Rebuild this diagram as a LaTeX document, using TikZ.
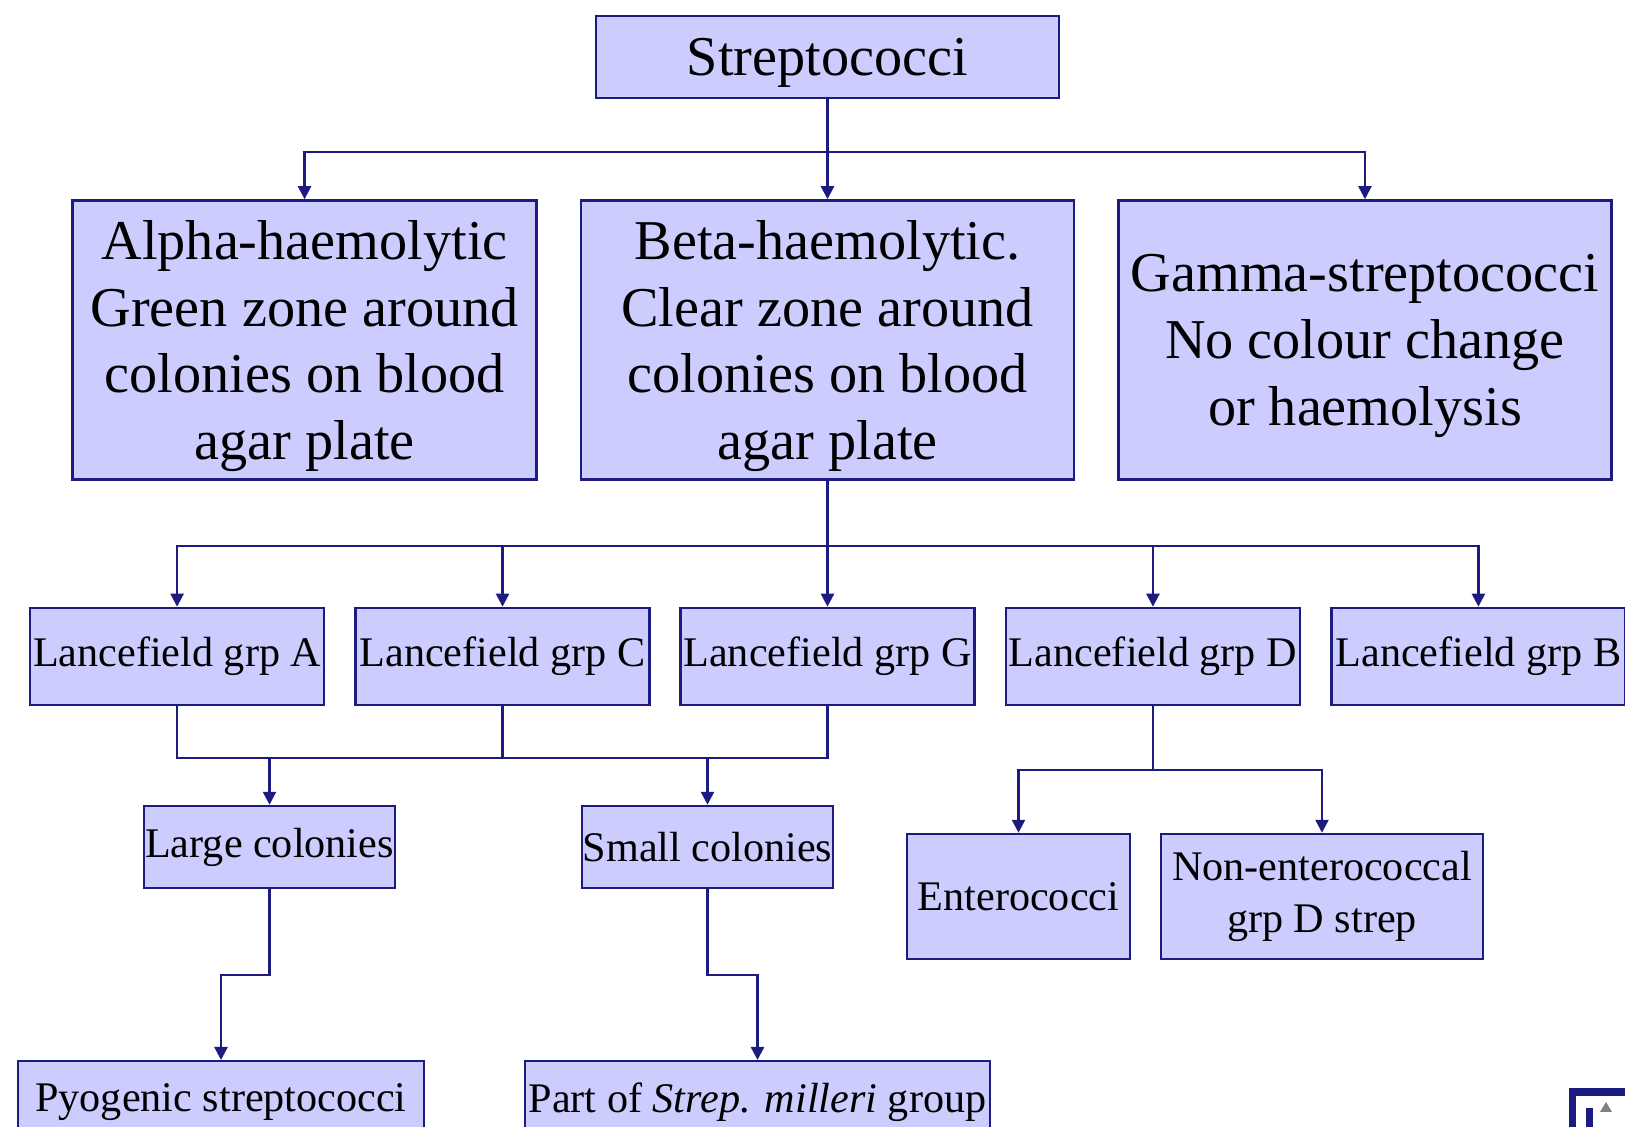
\documentclass[tikz,border=0pt]{standalone}
\usepackage{fontspec}
\setmainfont{Liberation Serif}
\usetikzlibrary{positioning, arrows.meta}
\definecolor{boxfill}{RGB}{204,204,255}
\definecolor{navy}{RGB}{28,28,128}
\tikzset{
  box/.style={draw=navy, fill=boxfill, line width=0.7pt, inner sep=0pt, align=center},
  topbox/.style={box, font=\fontsize{16}{19}\selectfont, text depth=0pt},
  subbox/.style={box, font=\fontsize{12}{14.8}\selectfont},
  lance/.style={subbox, minimum width=2.94cm, minimum height=0.97cm},
  link/.style={draw=navy, line width=0.7pt},
  arr/.style={link, -{Triangle[length=1.3mm,width=1.3mm]}}
}

\begin{document}
\begin{tikzpicture}
    \clip (0,0) rectangle (16.25,-11.27);
    \node[topbox, minimum width=4.63cm, minimum height=0.82cm] (strep) at (8.275,-0.57) {Streptococci};
    \node[topbox, minimum width=4.93cm, minimum height=2.79cm, below=1.00cm of strep] (beta) {Beta-haemolytic.\\Clear zone around\\colonies on blood\\agar plate};
    \node[topbox, minimum width=4.64cm, minimum height=2.79cm, left=0.42cm of beta] (alpha) {Alpha-haemolytic\\Green zone around\\colonies on blood\\agar plate};
    \node[topbox, minimum width=4.93cm, minimum height=2.79cm, right=0.42cm of beta] (gamma) {Gamma-streptococci\\No colour change\\or haemolysis};

    \node[lance, below=1.26cm of beta] (grpG) {Lancefield grp G};
    \node[lance, left=0.285cm of grpG] (grpC) {Lancefield grp C};
    \node[lance, left=0.29cm of grpC] (grpA) {Lancefield grp A};
    \node[lance, right=0.29cm of grpG] (grpD) {Lancefield grp D};
    \node[lance, right=0.29cm of grpD] (grpB) {Lancefield grp B};

    \node[subbox, minimum width=2.51cm, minimum height=0.82cm] (large) at (2.695,-8.47) {Large colonies};
    \node[subbox, minimum width=2.51cm, minimum height=0.82cm] (small) at (7.075,-8.47) {Small colonies};
    \node[subbox, minimum width=2.23cm, minimum height=1.25cm] (entero) at (10.185,-8.965) {Enterococci};
    \node[subbox, minimum width=3.22cm, minimum height=1.25cm] (nonent) at (13.22,-8.965) {Non-enterococcal\\grp D strep};
    \node[subbox, minimum width=4.06cm, minimum height=0.82cm, anchor=north] (pyo) at (2.21,-10.60) {Pyogenic streptococci};
    \node[subbox, minimum width=4.65cm, minimum height=0.82cm, anchor=north] (milleri) at (7.575,-10.60) {Part of \textit{Strep. milleri} group};

    % junctions
    \coordinate (j0) at (8.275,-1.52);
    \coordinate (j1) at (8.275,-5.46);
    \coordinate (j2) at (2.695,-7.58);
    \coordinate (j3) at (7.075,-7.58);
    \coordinate (j4) at (grpD |- 0,-7.70);
    \coordinate (j5) at (2.21,-9.75);
    \coordinate (j6) at (7.575,-9.75);

    \draw[link] (strep) -- (j0);
    \draw[arr] (j0) -| (alpha);
    \draw[arr] (j0) -- (beta);
    \draw[arr] (j0) -| (gamma);

    \draw[link] (beta) -- (j1);
    \foreach \g in {grpA,grpC,grpG,grpD,grpB}
        \draw[arr] (j1) -| (\g);

    \draw[link] (grpA) |- (j3);
    \draw[link] (grpC) -- (grpC |- j2);
    \draw[link] (grpG) |- (j3);
    \draw[arr] (j2) -- (large);
    \draw[arr] (j3) -- (small);

    \draw[link] (grpD) -- (j4);
    \draw[arr] (j4) -| (entero);
    \draw[arr] (j4) -| (nonent);

    \draw[arr] (large) |- (j5) -- (pyo);
    \draw[arr] (small) |- (j6) -- (milleri);

    % corner icon
    \draw[navy, line width=2pt] (15.72,-10.92) rectangle (16.6,-11.7);
    \fill[navy] (15.86,-11.08) rectangle (15.93,-11.4);
    \fill[gray] (16.00,-11.12) -- (16.06,-11.02) -- (16.12,-11.12) -- cycle;
\end{tikzpicture}
\end{document}
